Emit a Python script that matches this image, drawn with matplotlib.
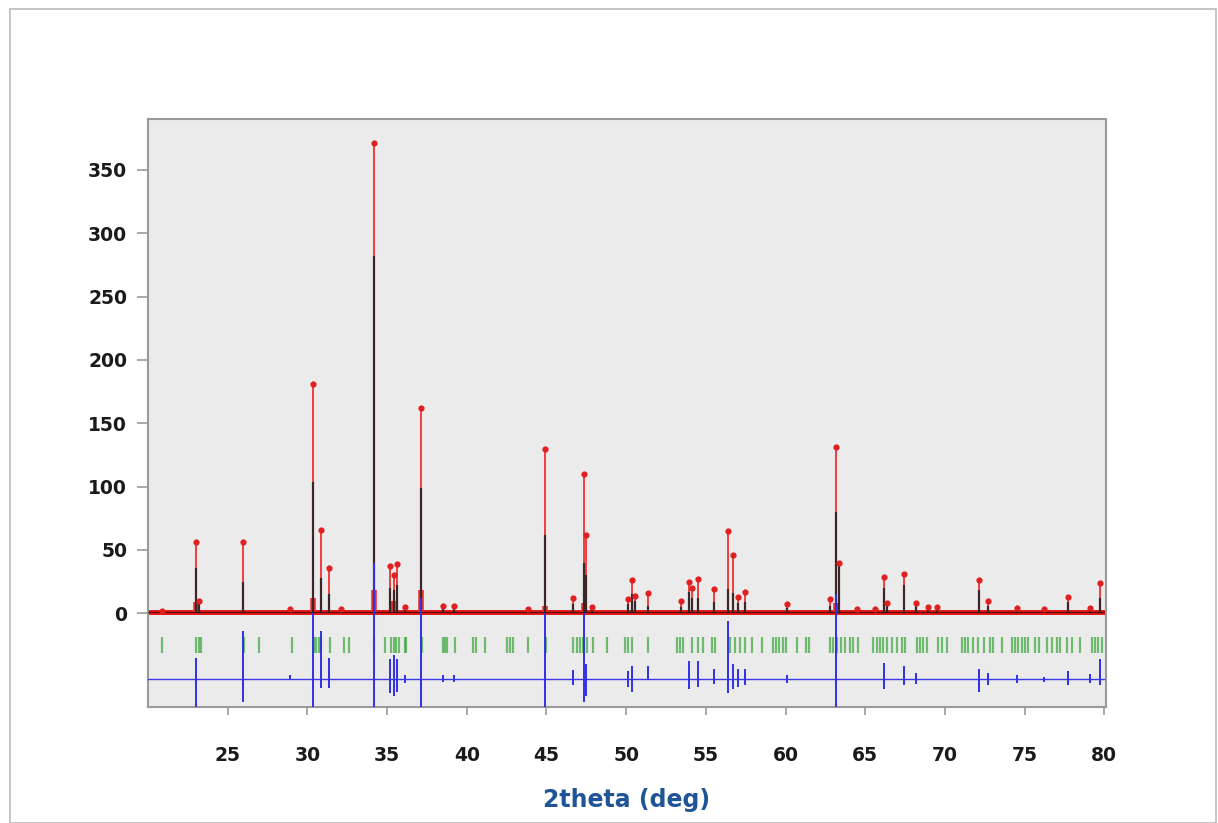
import matplotlib
matplotlib.use("Agg")
import matplotlib.pyplot as plt
from matplotlib.patches import Rectangle

plt.rcParams['font.family'] = ['DejaVu Sans']

# observed / calculated peak list (2theta, intensity)
peak_pos = [20.9, 23.0, 23.2, 25.94, 28.93, 30.34, 30.86, 31.38, 32.1, 34.17,
            35.2, 35.42, 35.63, 36.1, 37.14, 38.5, 39.2, 43.85, 44.9, 46.64,
            47.35, 47.47, 47.83, 50.13, 50.38, 50.55, 51.39, 53.42, 53.96, 54.1,
            54.52, 55.5, 56.4, 56.68, 57.04, 57.45, 60.07, 62.79, 63.17, 63.35,
            64.47, 65.6, 66.2, 66.35, 67.44, 68.19, 68.96, 69.49, 72.16, 72.73,
            74.5, 76.2, 77.75, 79.1, 79.7]
obs_int = [1.5, 56, 10, 56, 3, 181, 66, 36, 3, 371,
           37, 30, 39, 5, 162, 6, 6, 3, 130, 12,
           110, 62, 5, 11, 26, 14, 16, 10, 25, 20,
           27, 19, 65, 46, 13, 17, 7, 11, 131, 40,
           3, 3, 29, 8, 31, 8, 5, 5, 26, 10,
           4, 3, 13, 4, 24]
calc_int = [1, 36, 8, 25, 2, 104, 28, 15, 2, 282,
            20, 18, 22, 3, 99, 4, 4, 2, 62, 7,
            40, 30, 3, 7, 15, 10, 6, 5, 17, 12,
            12, 9, 19, 16, 8, 9, 4, 6, 80, 38,
            2, 2, 20, 6, 22, 7, 3, 3, 18, 6,
            3, 2, 9, 3, 12]

# broad feet under the strongest peaks
foot_pos = [23.0, 30.34, 34.17, 35.4, 37.14, 44.9, 47.35, 63.17]
foot_int = [9, 12, 18, 10, 18, 6, 8, 8]

# difference curve spikes (upper / lower ends)
diff_pos = [23.0, 25.94, 28.93, 30.34, 30.86, 31.38, 34.17, 35.2, 35.42, 35.63,
            36.1, 37.14, 38.5, 39.2, 44.9, 46.64, 47.35, 47.47, 50.13, 50.38,
            51.39, 53.96, 54.52, 55.5, 56.4, 56.68, 57.04, 57.45, 60.07, 63.17,
            66.2, 67.44, 68.19, 72.16, 72.73, 74.5, 76.2, 77.75, 79.1, 79.7]
diff_hi = [-35, -14, -49, 0, -14, -35, 40, -36, -33, -36,
           -49, 12, -49, -49, 0, -45, 0, -40, -46, -42,
           -42, -38, -38, -44, -6, -40, -44, -44, -49, 15,
           -39, -42, -47, -44, -47, -49, -50, -46, -48, -36]
diff_lo = [-74, -70, -53, -74, -59, -59, -74, -63, -65, -62,
           -55, -74, -54, -54, -74, -57, -70, -65, -58, -62,
           -53, -60, -58, -56, -63, -60, -58, -57, -55, -74,
           -60, -57, -56, -62, -57, -55, -54, -57, -55, -57]
diff_zero = -52

# Bragg reflection positions
hkl_pos = [20.9, 23.03, 23.2, 23.35, 26.0, 26.95, 29.04, 30.4, 30.57, 30.71,
           30.88, 31.4, 32.28, 32.6, 34.19, 34.86, 35.27, 35.42, 35.59, 35.73,
           36.11, 36.2, 37.2, 38.48, 38.62, 38.77, 39.25, 40.4, 40.61, 41.13,
           42.5, 42.7, 42.87, 43.85, 44.96, 46.68, 46.89, 47.1, 47.3, 47.52,
           47.93, 48.77, 49.92, 50.13, 50.34, 51.39, 53.17, 53.37, 53.58, 54.1,
           54.52, 54.84, 55.36, 55.57, 56.51, 56.83, 57.14, 57.45, 57.87, 58.5,
           59.23, 59.4, 59.61, 59.82, 60.03, 60.7, 61.28, 61.49, 62.79, 63.0,
           63.21, 63.46, 63.73, 64.05, 64.25, 64.57, 65.51, 65.72, 65.93, 66.14,
           66.35, 66.66, 66.98, 67.29, 67.5, 68.23, 68.44, 68.65, 68.86, 69.59,
           69.8, 70.12, 71.06, 71.27, 71.47, 71.79, 72.1, 72.42, 72.83, 73.04,
           73.57, 74.19, 74.4, 74.61, 74.82, 75.03, 75.24, 75.66, 75.87, 76.39,
           76.71, 77.02, 77.23, 77.65, 77.96, 78.48, 79.22, 79.42, 79.63, 79.84]
hkl_lo, hkl_hi = -31, -19

x_range = [20, 80]
background = [0.8, 0.8]

fig = plt.figure(figsize=(12.18, 8.23), dpi=100)
ax = fig.add_axes([0.1215, 0.141, 0.7865, 0.714])
ax.set_facecolor('#ebebeb')

# observed (red) and calculated (black)
ax.plot(x_range, background, color='#e01010', lw=3.5, zorder=2)
ax.vlines(foot_pos, 0, foot_int, color='#e83030', lw=4, zorder=2)
ax.vlines(peak_pos, 0, obs_int, color='#f03030', lw=1.3, zorder=2)
ax.scatter(peak_pos, obs_int, s=12, color='#e02020', zorder=4)
ax.plot(x_range, background, color='#5a1010', lw=0.8, zorder=3)
ax.vlines(peak_pos, 0, calc_int, color='#202020', lw=1.6, alpha=0.85, zorder=3)

# reflection ticks
ax.vlines(hkl_pos, hkl_lo, hkl_hi, color='#2ca02c', lw=1.6, alpha=0.65, zorder=2)

# difference
ax.plot(x_range, [diff_zero, diff_zero], color='#3a3ae8', lw=1.0, zorder=3)
ax.vlines(diff_pos, diff_lo, diff_hi, color='#3030e8', lw=1.4, zorder=3)

ax.set_xlim(20, 80.1)
ax.set_ylim(-74, 390)
ax.set_xticks(range(25, 81, 5))
ax.set_yticks(range(0, 351, 50))

for s in ax.spines.values():
    s.set_color('#9a9a9a')
    s.set_linewidth(1.5)
ax.tick_params(axis='x', direction='out', length=6, width=1.2, color='#9a9a9a',
               pad=22, labelsize=13.5, labelcolor='#1a1a1a')
ax.tick_params(axis='y', direction='out', length=8, width=1.2, color='#9a9a9a',
               pad=7, labelsize=13.5, labelcolor='#1a1a1a')
for lab in ax.get_xticklabels() + ax.get_yticklabels():
    lab.set_fontweight('bold')

ax.set_xlabel('2theta (deg)', color='#1f5597', fontsize=17, fontweight='bold',
              labelpad=17)

# outer frame of the picture
fig.patches.append(Rectangle((0.008, 0.0), 0.99, 0.989, transform=fig.transFigure,
                             fill=False, edgecolor='#bbbbbb', lw=1.2))

fig.savefig('out.png', dpi=100)
